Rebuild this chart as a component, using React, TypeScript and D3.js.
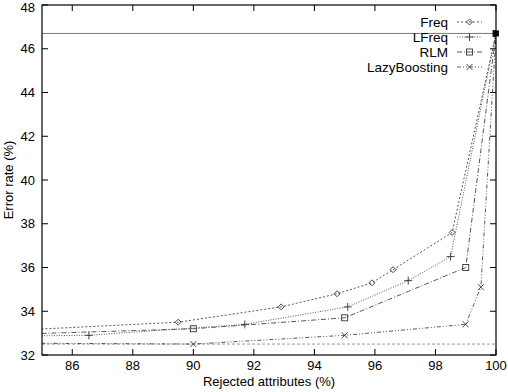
import React from 'react';
import * as d3 from 'd3';

// Series: [rejected attributes %, error rate %]
const freqX = [83, 89.5, 92.9, 94.75, 95.9, 96.6, 98.55, 100];
const freqY = [33.05, 33.5, 34.2, 34.8, 35.3, 35.9, 37.6, 46.7];
const lfreqX = [83, 86.55, 91.7, 95.1, 97.1, 98.5, 100];
const lfreqY = [32.85, 32.9, 33.4, 34.2, 35.4, 36.5, 46.7];
const rlmX = [83, 90, 95, 99, 100];
const rlmY = [32.9, 33.2, 33.7, 36.0, 46.7];
const lazyX = [83, 90, 95, 99, 99.5, 100];
const lazyY = [32.55, 32.5, 32.9, 33.4, 35.1, 46.7];

const baselineTop = 46.7;
const baselineBottom = 32.5;

const xTicks = [86, 88, 90, 92, 94, 96, 98, 100];
const yTicks = [32, 34, 36, 38, 40, 42, 44, 46, 48];

const seriesNames = ['Freq', 'LFreq', 'RLM', 'LazyBoosting'];

const W = 508, H = 392;
const left = 42, right = 496, top = 5, bottom = 355;
const font = 'Liberation Sans, Arial, Helvetica, sans-serif';

type Sym = 'diamond' | 'plus' | 'square' | 'cross';

function Marker({ x, y, sym }: { x: number; y: number; sym: Sym }) {
  const s = 3;
  const st = { stroke: '#333', strokeWidth: 0.9, fill: 'none' };
  if (sym === 'diamond') return <path d={`M${x},${y - s}L${x + s},${y}L${x},${y + s}L${x - s},${y}Z`} {...st} />;
  if (sym === 'square') return <rect x={x - s} y={y - s} width={2 * s} height={2 * s} {...st} />;
  if (sym === 'plus') return <path d={`M${x - 4},${y}H${x + 4}M${x},${y - 4}V${y + 4}`} {...st} />;
  return <path d={`M${x - 3},${y - 3}L${x + 3},${y + 3}M${x - 3},${y + 3}L${x + 3},${y - 3}`} {...st} />;
}

export default function App() {
  const x = d3.scaleLinear().domain([85, 100]).range([left, right]);
  const y = d3.scaleLinear().domain([32, 48]).range([bottom, top]);
  const line = d3.line<[number, number]>().x(d => x(d[0])).y(d => y(d[1]));

  const series = [
    { name: seriesNames[0], xs: freqX, ys: freqY, sym: 'diamond' as Sym, dash: '2,2' },
    { name: seriesNames[1], xs: lfreqX, ys: lfreqY, sym: 'plus' as Sym, dash: '1,1.5' },
    { name: seriesNames[2], xs: rlmX, ys: rlmY, sym: 'square' as Sym, dash: '5,2,1,2' },
    { name: seriesNames[3], xs: lazyX, ys: lazyY, sym: 'cross' as Sym, dash: '4,2,1,2,1,2' },
  ];

  return (
    <svg width={W} height={H} style={{ position: 'absolute', left: 0, top: 0 }} fontFamily={font}>
      <rect width={W} height={H} fill="#fff" />
      <defs>
        <clipPath id="plot">
          <rect x={left} y={top} width={right - left} height={bottom - top} />
        </clipPath>
      </defs>

      {/* ticks, all four sides, pointing inward */}
      {xTicks.map(t => (
        <g key={'x' + t}>
          <line x1={x(t)} x2={x(t)} y1={bottom} y2={bottom - 6} stroke="#000" />
          <line x1={x(t)} x2={x(t)} y1={top} y2={top + 6} stroke="#000" />
          <text x={x(t)} y={bottom + 15} textAnchor="middle" fontSize={13}>{t}</text>
        </g>
      ))}
      {yTicks.map(t => (
        <g key={'y' + t}>
          <line x1={left} x2={left + 6} y1={y(t)} y2={y(t)} stroke="#000" />
          <line x1={right} x2={right - 6} y1={y(t)} y2={y(t)} stroke="#000" />
          <text x={left - 7} y={Math.max(y(t), 7)} dy="0.36em" textAnchor="end" fontSize={13}>{t}</text>
        </g>
      ))}

      <g clipPath="url(#plot)">
        <line x1={left} x2={right} y1={y(baselineTop)} y2={y(baselineTop)} stroke="#777" strokeWidth={1} />
        <line x1={left} x2={right} y1={y(baselineBottom)} y2={y(baselineBottom)} stroke="#999" strokeWidth={1} strokeDasharray="3,2" />
        {series.map(s => {
          const pts = s.xs.map((v, i) => [v, s.ys[i]] as [number, number]);
          return (
            <g key={s.name}>
              <path d={line(pts) || ''} fill="none" stroke="#444" strokeWidth={0.9} strokeDasharray={s.dash} />
              {pts.filter(p => p[0] >= 85).map((p, i) => (
                <Marker key={i} x={x(p[0])} y={y(p[1])} sym={s.sym} />
              ))}
            </g>
          );
        })}
      </g>
      <rect x={x(100) - 3} y={y(baselineTop) - 3} width={6} height={6} fill="#111" />

      {/* legend */}
      {series.map((s, i) => {
        const ly = 22 + i * 15;
        return (
          <g key={'lg' + s.name}>
            <text x={448} y={ly} dy="0.36em" textAnchor="end" fontSize={13.5}>{s.name}</text>
            <line x1={457} x2={482} y1={ly} y2={ly} stroke="#444" strokeWidth={0.9} strokeDasharray={s.dash} />
            <Marker x={469.5} y={ly} sym={s.sym} />
          </g>
        );
      })}

      <rect x={left} y={top} width={right - left} height={bottom - top} fill="none" stroke="#000" strokeWidth={1.2} />

      <text x={(left + right) / 2} y={bottom + 31} textAnchor="middle" fontSize={13}>Rejected attributes (%)</text>
      <text transform={`translate(13,${(top + bottom) / 2}) rotate(-90)`} textAnchor="middle" fontSize={13}>Error rate (%)</text>
    </svg>
  );
}
